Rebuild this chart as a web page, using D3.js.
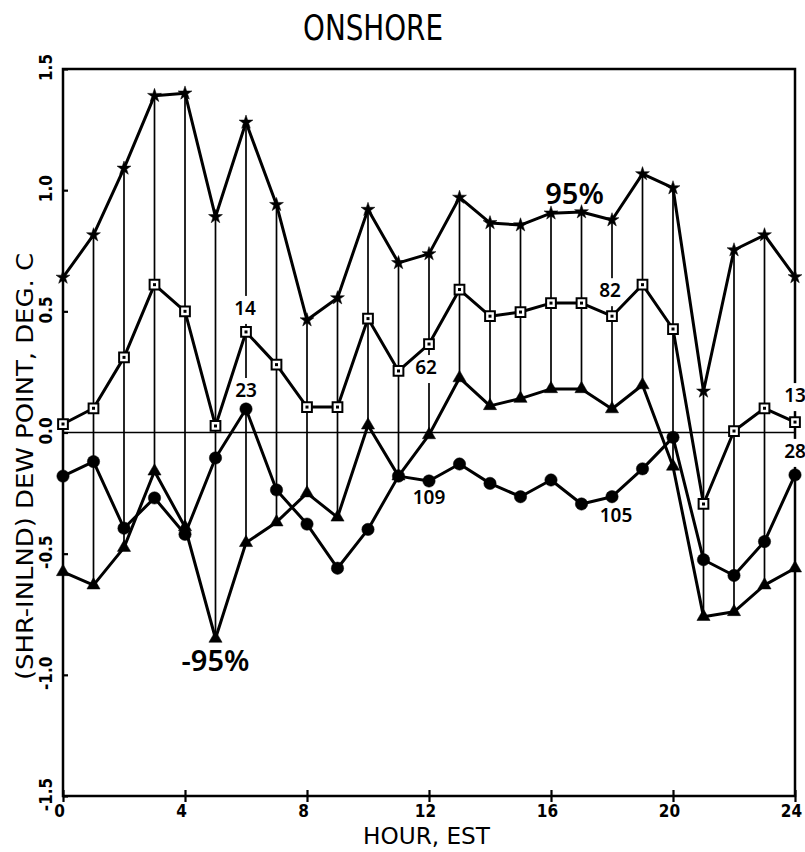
<!DOCTYPE html>
<html>
<head>
<meta charset="utf-8">
<style>
body { margin: 0; background: #ffffff; }
#chart { display: block; }
.axis path, .axis line { stroke: #000; }
.tick text { font-family: "DejaVu Sans Condensed", sans-serif; font-weight: bold; }
</style>
</head>
<body>
<svg id="chart" width="805" height="852"></svg>
<script src="https://cdn.jsdelivr.net/npm/d3@7/dist/d3.min.js"></script>
<script>

// values, one per hour 0..24
var hours = d3.range(0, 25);
var upper95 = [0.64, 0.815, 1.09, 1.39, 1.40, 0.89, 1.28, 0.94, 0.464, 0.555, 0.92, 0.70, 0.737,
	0.97, 0.865, 0.856, 0.905, 0.91, 0.877, 1.067, 1.009, 0.17, 0.753, 0.815, 0.642];
var squareMean = [0.035, 0.10, 0.31, 0.61, 0.50, 0.027, 0.415, 0.28, 0.105, 0.105, 0.47, 0.254, 0.365,
	0.59, 0.48, 0.497, 0.534, 0.534, 0.48, 0.61, 0.427, -0.295, 0.006, 0.10, 0.043];
var lower95 = [-0.575, -0.63, -0.475, -0.16, -0.39, -0.85, -0.455, -0.37, -0.25, -0.35, 0.03, -0.18, -0.01,
	0.225, 0.11, 0.14, 0.18, 0.18, 0.097, 0.196, -0.14, -0.76, -0.74, -0.63, -0.56];
var circleMean = [-0.18, -0.12, -0.395, -0.27, -0.42, -0.105, 0.097, -0.237, -0.378, -0.56, -0.40, -0.18, -0.20,
	-0.13, -0.21, -0.265, -0.196, -0.295, -0.265, -0.15, -0.02, -0.525, -0.59, -0.45, -0.175];

var xTicks = [0, 4, 8, 12, 16, 20, 24];
var yTicks = [-1.5, -1.0, -0.5, 0.0, 0.5, 1.0, 1.5];

// sample counts written next to some hours
var countHours = [6, 6, 12, 12, 18, 18, 24, 24];
var countSeries = ["square", "circle", "square", "circle", "square", "circle", "square", "circle"];
var countText = ["14", "23", "62", "109", "82", "105", "13", "28"];

var svg = d3.select("#chart"),
	plotL = 63, plotT = 69, plotR = 795, plotB = 796;

var x = d3.scaleLinear().domain([0, 24]).range([plotL, plotR]);
var y = d3.scaleLinear().domain([-1.5, 1.5]).range([plotB, plotT]);

var series = { upper: upper95, square: squareMean, lower: lower95, circle: circleMean };

// title
svg.append("text")
	.attr("x", 303).attr("y", 40)
	.attr("font-family", "DejaVu Sans Condensed, sans-serif")
	.attr("font-size", 36)
	.attr("textLength", 140).attr("lengthAdjust", "spacingAndGlyphs")
	.text("ONSHORE");

// frame
svg.append("rect")
	.attr("x", plotL).attr("y", plotT)
	.attr("width", plotR - plotL).attr("height", plotB - plotT)
	.attr("fill", "none").attr("stroke", "#000").attr("stroke-width", 2.5);

// zero line
svg.append("line")
	.attr("x1", plotL).attr("x2", plotR)
	.attr("y1", y(0)).attr("y2", y(0))
	.attr("stroke", "#000").attr("stroke-width", 1.6);

// vertical bars from upper to lower 95%
svg.append("g").selectAll("line")
	.data(hours.filter(function(h) { return h > 0 && h < 24; }))
	.enter().append("line")
	.attr("x1", function(h) { return x(h); })
	.attr("x2", function(h) { return x(h); })
	.attr("y1", function(h) { return y(upper95[h]); })
	.attr("y2", function(h) { return y(lower95[h]); })
	.attr("stroke", "#000").attr("stroke-width", 1.7);

// axes
var xAxis = svg.append("g")
	.attr("class", "axis")
	.attr("transform", "translate(0," + plotB + ")")
	.call(d3.axisBottom(x).tickValues(xTicks).tickSize(6).tickFormat(d3.format("d")));
xAxis.select(".domain").remove();
xAxis.selectAll(".tick line").attr("y1", -6).attr("stroke-width", 2.2);
xAxis.selectAll(".tick text")
	.attr("y", 9).attr("dx", -4)
	.attr("font-size", 17);

var yAxis = svg.append("g")
	.attr("class", "axis")
	.attr("transform", "translate(" + plotL + ",0)")
	.call(d3.axisLeft(y).tickValues(yTicks).tickSize(5)
		.tickFormat(function(d) { return d3.format(".1f")(d).replace("\u2212", "-"); }));
yAxis.select(".domain").remove();
yAxis.selectAll(".tick line").attr("x2", 5).attr("stroke-width", 2.2);
yAxis.selectAll(".tick text")
	.attr("x", 0).attr("dy", 0)
	.attr("text-anchor", "middle")
	.attr("transform", "translate(-11,-2) rotate(-90)")
	.attr("font-size", 17);

// axis titles
svg.append("text")
	.attr("x", 363).attr("y", 844)
	.attr("font-family", "DejaVu Sans Condensed, sans-serif")
	.attr("font-size", 23)
	.attr("textLength", 127).attr("lengthAdjust", "spacingAndGlyphs")
	.text("HOUR, EST");

svg.append("text")
	.attr("transform", "translate(33,680) rotate(-90)")
	.attr("font-family", "DejaVu Sans Condensed, sans-serif")
	.attr("font-size", 23)
	.attr("textLength", 427).attr("lengthAdjust", "spacingAndGlyphs")
	.text("(SHR-INLND) DEW POINT, DEG. C");

// count labels, white box behind so they cut the lines under them
var countOffset = { "14": [-1, -17], "23": [0, -12], "62": [-3, 30], "109": [0, 23],
	"82": [-2, -19], "105": [4, 25], "13": [0, -20], "28": [0, -17] };
var counts = svg.append("g");
countText.forEach(function(t, i) {
	var h = countHours[i], v = series[countSeries[i]][h];
	var lab = counts.append("g");
	var txt = lab.append("text")
		.attr("x", x(h) + countOffset[t][0])
		.attr("y", y(v) + countOffset[t][1])
		.attr("text-anchor", "middle")
		.attr("font-family", "Noto Sans, sans-serif")
		.attr("font-weight", 600)
		.attr("font-size", 19)
		.text(t);
	var bb = txt.node().getBBox();
	lab.insert("rect", "text")
		.attr("x", bb.x - 1).attr("y", bb.y + 1)
		.attr("width", bb.width + 2).attr("height", bb.height + 2)
		.attr("fill", "#fff");
});

// series lines
var line = d3.line()
	.x(function(d, i) { return x(hours[i]); })
	.y(function(d) { return y(d); });

[upper95, squareMean, lower95, circleMean].forEach(function(s) {
	svg.append("path")
		.datum(s)
		.attr("d", line)
		.attr("fill", "none")
		.attr("stroke", "#000")
		.attr("stroke-width", 3)
		.attr("stroke-linejoin", "round");
});

// markers
function markers(s, type, size, filled) {
	svg.append("g").selectAll("path")
		.data(s)
		.enter().append("path")
		.attr("transform", function(d, i) { return "translate(" + x(hours[i]) + "," + y(d) + ")"; })
		.attr("d", d3.symbol().type(type).size(size))
		.attr("fill", filled ? "#000" : "#fff")
		.attr("stroke", "#000")
		.attr("stroke-width", filled ? 0.5 : 2);
}
markers(upper95, d3.symbolStar, 60, true);
markers(lower95, d3.symbolTriangle, 75, true);
markers(circleMean, d3.symbolCircle, 120, true);
markers(squareMean, d3.symbolSquare, 95, false);

// small dot inside the squares
svg.append("g").selectAll("rect")
	.data(squareMean)
	.enter().append("rect")
	.attr("x", function(d, i) { return x(hours[i]) - 1.5; })
	.attr("y", function(d) { return y(d) - 1.5; })
	.attr("width", 3).attr("height", 3)
	.attr("fill", "#000");

// 95% labels
svg.append("text")
	.attr("x", x(17) - 7).attr("y", y(upper95[17]) - 8)
	.attr("text-anchor", "middle")
	.attr("font-family", "Noto Sans, sans-serif")
	.attr("font-weight", 600)
	.attr("font-size", 29)
	.text("95%");

svg.append("text")
	.attr("x", x(5)).attr("y", y(lower95[5]) + 33)
	.attr("text-anchor", "middle")
	.attr("font-family", "Noto Sans, sans-serif")
	.attr("font-weight", 600)
	.attr("font-size", 29)
	.text("-95%");

</script>
</body>
</html>
